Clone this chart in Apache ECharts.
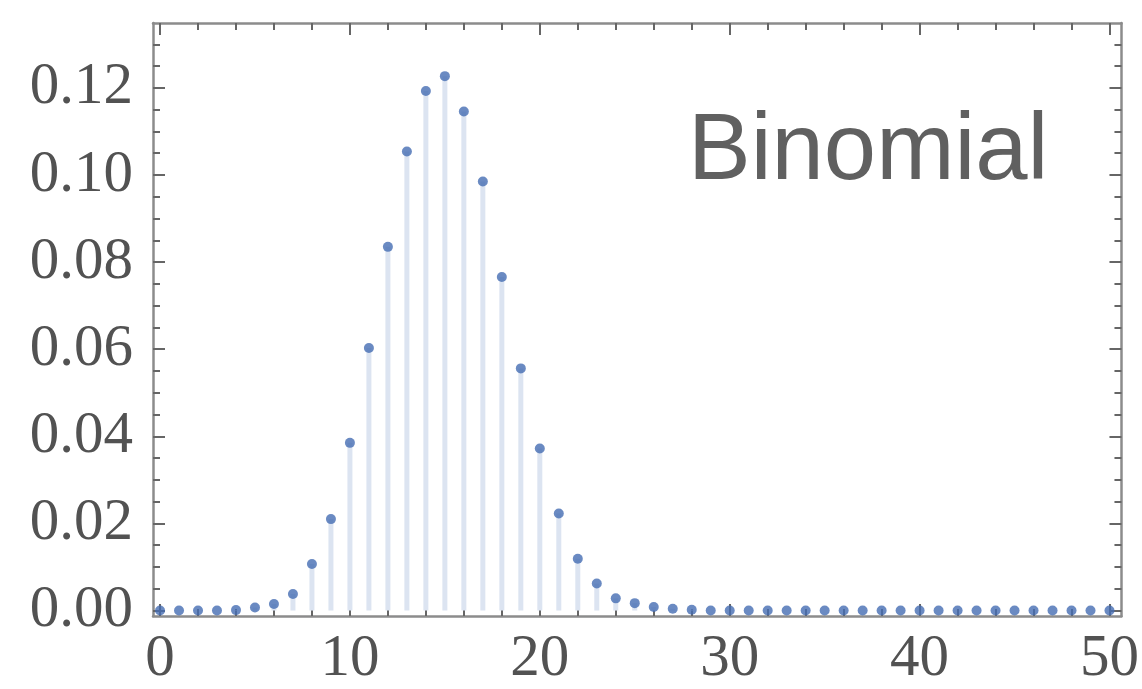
<!DOCTYPE html>
<html>
<head>
<meta charset="utf-8">
<script src="https://cdn.jsdelivr.net/npm/echarts@6/dist/echarts.min.js"></script>
<style>
html,body{margin:0;padding:0;background:#fff;}
#chart{width:1142px;height:689px;}
</style>
</head>
<body>
<div id="chart"></div>
<script>
// Data
const ks = [0,1,2,3,4,5,6,7,8,9,10,11,12,13,14,15,16,17,18,19,20,21,22,23,24,25,26,27,28,29,30,31,32,33,34,35,36,37,38,39,40,41,42,43,44,45,46,47,48,49,50];
const probs = [0,0,0,0,0.0001,0.0007,0.0015,0.0038,0.0107,0.0210,0.0385,0.0603,0.0835,0.1054,0.1193,0.1227,0.1146,0.0985,0.0766,0.0556,0.0372,0.0223,0.0119,0.0062,0.0028,0.0017,0.0008,0.0004,0.0002,0,0,0,0,0,0,0,0,0,0,0,0,0,0,0,0,0,0,0,0,0,0];
const xMajorTicks = [0,10,20,30,40,50];
const xMinorTicks = [2,4,6,8,12,14,16,18,22,24,26,28,32,34,36,38,42,44,46,48];
const yMajorTicks = [0,0.02,0.04,0.06,0.08,0.10,0.12];
const yMinorTicks = [0.005,0.01,0.015,0.025,0.03,0.035,0.045,0.05,0.055,0.065,0.07,0.075,0.085,0.09,0.095,0.105,0.11,0.115,0.125,0.13];
const labelText = 'Binomial';

const points = ks.map((k,i)=>[k, probs[i]]);

const XMIN = -0.37, XMAX = 50.63, YMIN = -0.00125, YMAX = 0.1349;
const lineCol = '#8c8c8c', tickCol = '#666666';
const labelFont = {fontFamily:'Liberation Serif', fontSize:59, color:'#525252'};

function xAx(pos, ticks, len, showLine, showLabel){
  return {
    type:'value', position:pos, min:XMIN, max:XMAX,
    axisLine:{show:showLine, onZero:false, lineStyle:{color:lineCol, width:2.5}},
    axisTick:{show:true, inside:true, length:len, customValues:ticks, lineStyle:{color:tickCol, width:2}},
    axisLabel:{show:showLabel, customValues:ticks, margin:14, formatter:v=>String(Math.round(v)), ...labelFont},
    splitLine:{show:false}
  };
}
function yAx(pos, ticks, len, showLine, showLabel){
  return {
    type:'value', position:pos, min:YMIN, max:YMAX,
    axisLine:{show:showLine, onZero:false, lineStyle:{color:lineCol, width:2.5}},
    axisTick:{show:true, inside:true, length:len, customValues:ticks, lineStyle:{color:tickCol, width:2}},
    axisLabel:{show:showLabel, customValues:ticks, margin:20, formatter:v=>v.toFixed(2), ...labelFont},
    splitLine:{show:false}
  };
}

const chart = echarts.init(document.getElementById('chart'), null, {renderer:'canvas'});
chart.setOption({
  animation:false,
  backgroundColor:'#fff',
  grid:{left:153, right:17, top:23, bottom:67},
  xAxis:[
    xAx('bottom', xMajorTicks, 12, true, true),
    xAx('bottom', xMinorTicks, 7, false, false),
    xAx('top', xMajorTicks, 12, true, false),
    xAx('top', xMinorTicks, 7, false, false)
  ],
  yAxis:[
    yAx('left', yMajorTicks, 12, true, true),
    yAx('left', yMinorTicks, 7, false, false),
    yAx('right', yMajorTicks, 12, true, false),
    yAx('right', yMinorTicks, 7, false, false)
  ],
  graphic:[{
    type:'text', left:688, top:106,
    style:{text:labelText, font:'94px "Liberation Sans"', fill:'#606060'}
  }],
  series:[
    {type:'bar', xAxisIndex:0, yAxisIndex:0, data:points, barWidth:5,
     itemStyle:{color:'#dce4f1'}, silent:true},
    {type:'scatter', xAxisIndex:0, yAxisIndex:0, data:points, symbol:'circle', symbolSize:10,
     itemStyle:{color:'#456db3'}, silent:true}
  ]
});
</script>
</body>
</html>
